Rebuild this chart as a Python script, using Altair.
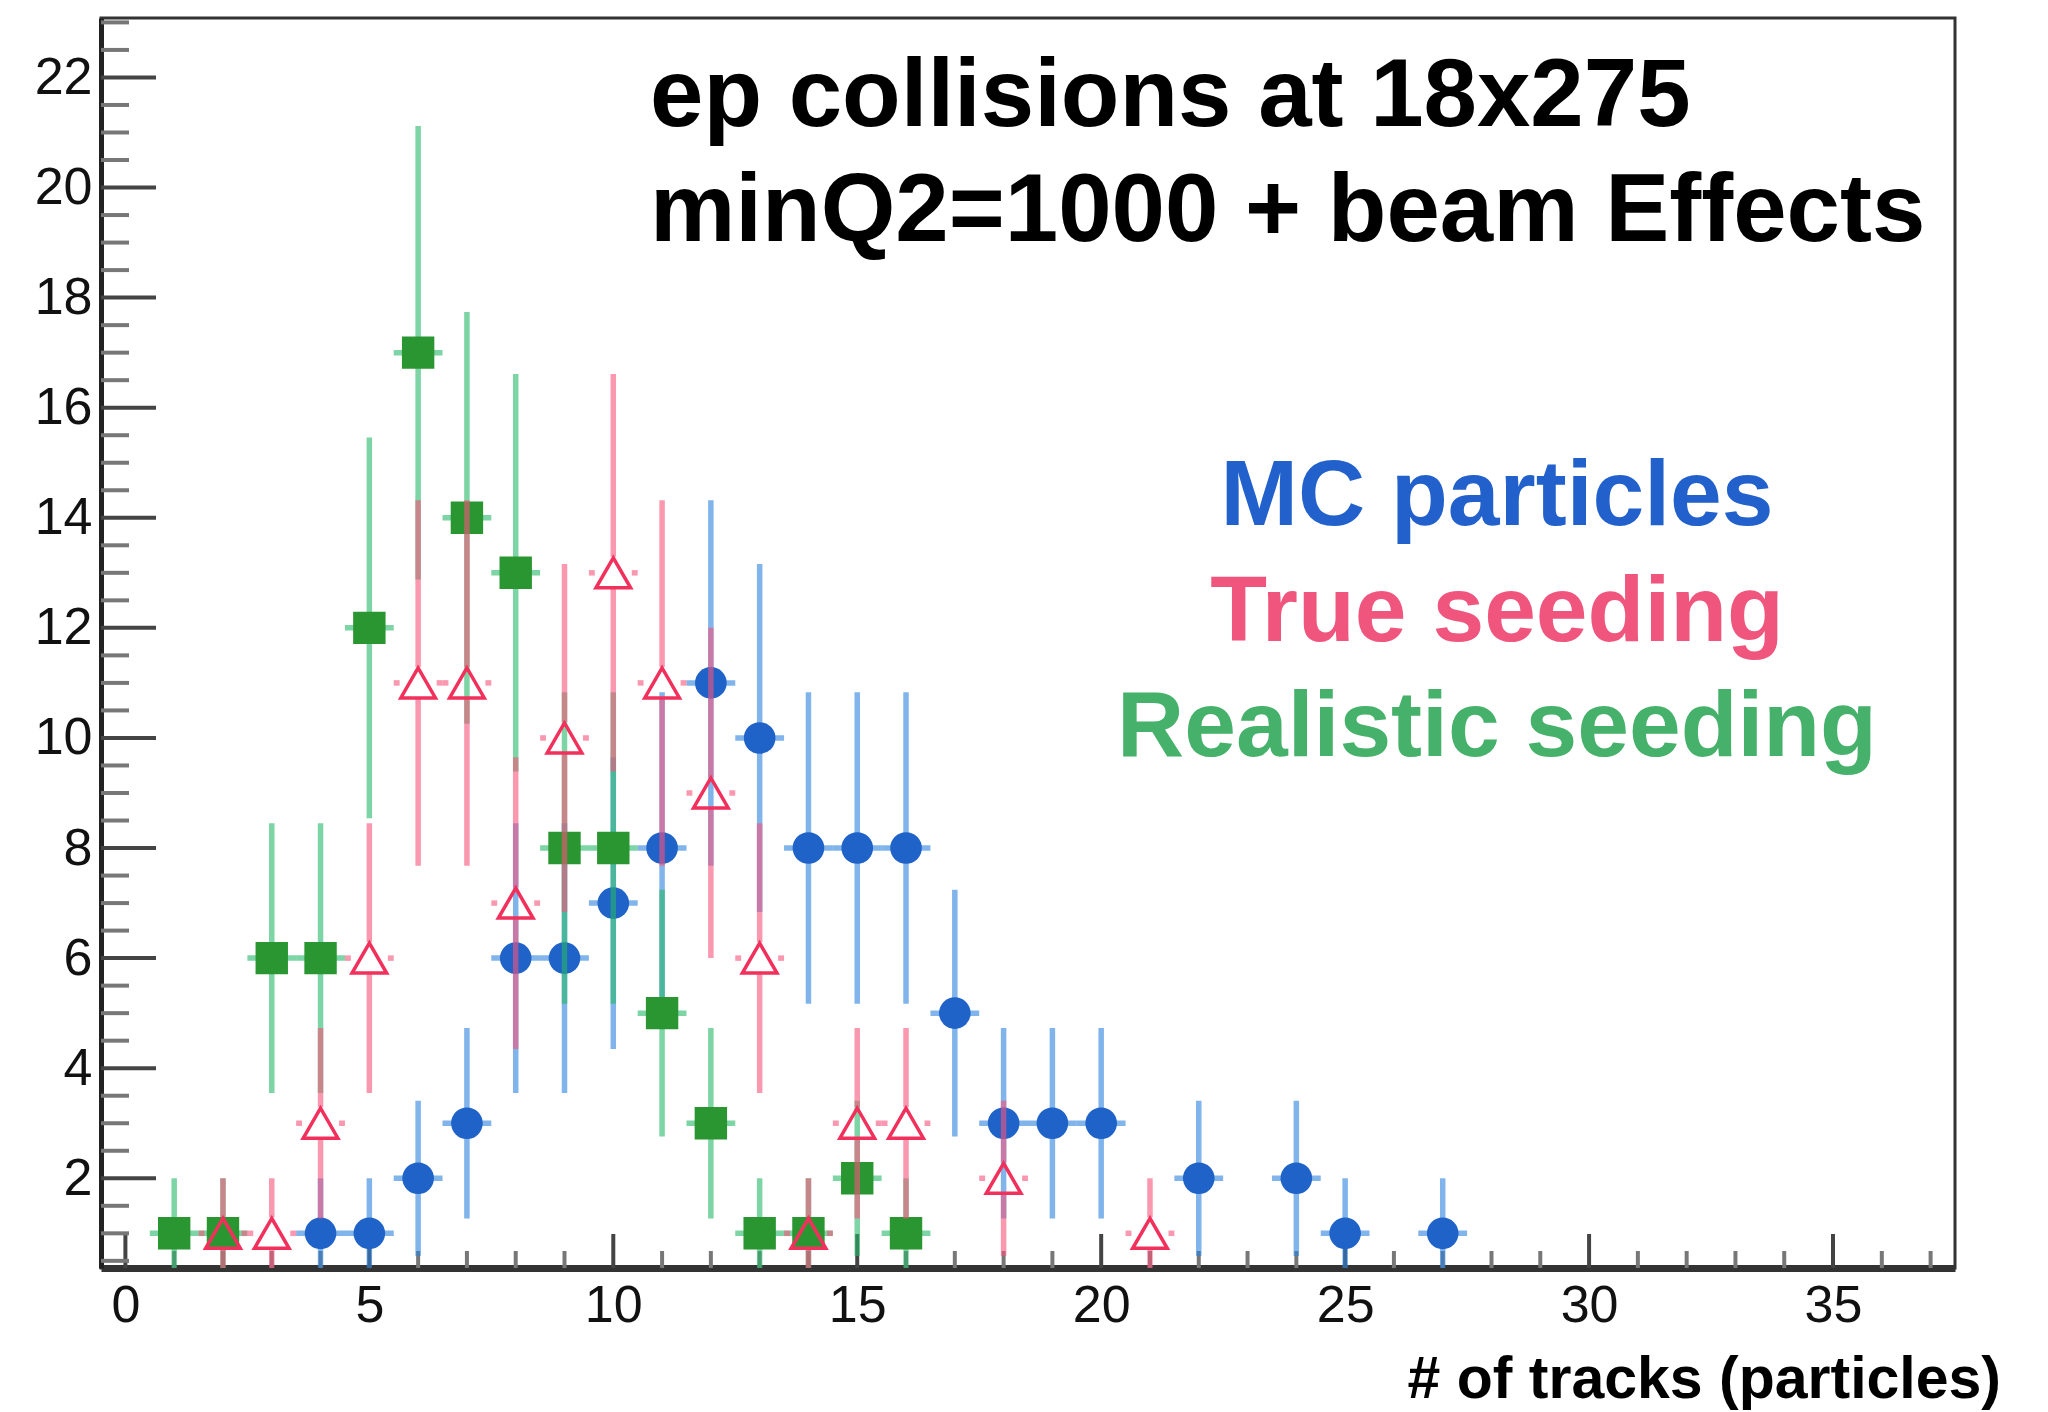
import altair as alt
import pandas as pd

# ---------------- data ----------------
mc_x = [4, 5, 6, 7, 8, 9, 10, 11, 12, 13, 14, 15, 16, 17, 18, 19, 20, 22, 24, 25, 27]
mc_y = [1, 1, 2, 3, 6, 6, 7, 8, 11, 10, 8, 8, 8, 5, 3, 3, 3, 2, 2, 1, 1]
mc_err = [1, 1, 1.41, 1.73, 2.45, 2.45, 2.65, 2.83, 3.32, 3.16, 2.83, 2.83, 2.83,
          2.24, 1.73, 1.73, 1.73, 1.41, 1.41, 1, 1]

true_x = [2, 3, 4, 5, 6, 7, 8, 9, 10, 11, 12, 13, 14, 15, 16, 18, 21]
true_y = [1, 1, 3, 6, 11, 11, 7, 10, 13, 11, 9, 6, 1, 3, 3, 2, 1]
true_err = [1, 1, 1.73, 2.45, 3.32, 3.32, 2.65, 3.16, 3.61, 3.32, 3, 2.45, 1,
            1.73, 1.73, 1.41, 1]

real_x = [1, 2, 3, 4, 5, 6, 7, 8, 9, 10, 11, 12, 13, 14, 15, 16]
real_y = [1, 1, 6, 6, 12, 17, 14, 13, 8, 8, 5, 3, 1, 1, 2, 1]
real_err = [1, 1, 2.45, 2.45, 3.46, 4.12, 3.74, 3.61, 2.83, 2.83, 2.24, 1.73, 1, 1,
            1.41, 1]

x_major_ticks = [0, 5, 10, 15, 20, 25, 30, 35]
x_minor_ticks = [v for v in range(0, 38) if v % 5 != 0]
y_major_ticks = [2, 4, 6, 8, 10, 12, 14, 16, 18, 20, 22]
y_minor_ticks = [v / 2 for v in range(1, 47) if v % 4 != 0]

title_line1 = "ep collisions at 18x275"
title_line2 = "minQ2=1000 + beam Effects"
legend_mc = "MC particles"
legend_true = "True seeding"
legend_real = "Realistic seeding"
x_title = "# of tracks (particles)"

# ---------------- layout / style ----------------
W, H = 1854, 1250
XMIN, XMAX = -0.5, 37.5
YMIN, YMAX = 0.37, 23.08
BIN_HALF = 0.5
FONT = "Liberation Sans"

PX_X = W / (XMAX - XMIN)
PX_Y = H / (YMAX - YMIN)
TRI_SIZE = 1200
TRI_HALF_W = 18.5      # px
TRI_HALF_H = 16.0      # px
GAP_X = TRI_HALF_W / PX_X
GAP_Y = TRI_HALF_H / PX_Y

BLUE_M, BLUE_B = "#1f62c8", "#2b82dc"
PINK_M, PINK_B = "#f2305c", "#f7537b"
GREEN_M, GREEN_B = "#2a9632", "#26b767"
BAR_OP = 0.6
BAR_W = 5.5

xs = alt.Scale(domain=[XMIN, XMAX], nice=False, zero=False)
ys = alt.Scale(domain=[YMIN, YMAX], nice=False, zero=False)
xaxis = alt.Axis(values=x_major_ticks, ticks=False, grid=False, domain=True,
                 domainColor="#333333", domainWidth=7, labelFontSize=52,
                 labelFont=FONT, labelColor="#111111", labelPadding=12,
                 labelFlush=False, title=None, format="d")
yaxis = alt.Axis(values=y_major_ticks, ticks=False, grid=False, domain=True,
                 domainColor="#222222", domainWidth=5, labelFontSize=52,
                 labelFont=FONT, labelColor="#111111", labelPadding=9,
                 labelFlush=False, title=None, format="d")


def X(f):
    return alt.X(f, type="quantitative", scale=xs, axis=xaxis)


def Y(f):
    return alt.Y(f, type="quantitative", scale=ys, axis=yaxis)


def series_df(xv, yv, ev):
    d = pd.DataFrame({"x": xv, "y": yv, "e": ev})
    d["lo"] = d["y"] - d["e"]
    d["hi"] = d["y"] + d["e"]
    d["xl"] = d["x"] - BIN_HALF
    d["xr"] = d["x"] + BIN_HALF
    return d


mc = series_df(mc_x, mc_y, mc_err)
tr = series_df(true_x, true_y, true_err)
re = series_df(real_x, real_y, real_err)


def bars(d, color):
    v = alt.Chart(d).mark_rule(color=color, opacity=BAR_OP, strokeWidth=BAR_W,
                               clip=True).encode(x=X("x"), y=Y("lo"), y2="hi")
    h = alt.Chart(d).mark_rule(color=color, opacity=BAR_OP, strokeWidth=BAR_W,
                               clip=True).encode(x=X("xl"), x2="xr", y=Y("y"))
    return [v, h]


# pink bars split around the hollow triangle (ROOT does not draw them inside the marker)
tr_v = pd.concat([
    pd.DataFrame({"x": tr["x"], "a": tr["lo"], "b": tr["y"] - GAP_Y}),
    pd.DataFrame({"x": tr["x"], "a": tr["y"] + GAP_Y, "b": tr["hi"]}),
])
tr_h = pd.concat([
    pd.DataFrame({"y": tr["y"], "a": tr["xl"], "b": tr["x"] - GAP_X}),
    pd.DataFrame({"y": tr["y"], "a": tr["x"] + GAP_X, "b": tr["xr"]}),
])
pink_v = alt.Chart(tr_v).mark_rule(color=PINK_B, opacity=BAR_OP, strokeWidth=BAR_W,
                                   clip=True).encode(x=X("x"), y=Y("a"), y2="b")
pink_h = alt.Chart(tr_h).mark_rule(color=PINK_B, opacity=BAR_OP, strokeWidth=BAR_W,
                                   clip=True).encode(x=X("a"), x2="b", y=Y("y"))

mc_pts = alt.Chart(mc).mark_point(shape="circle", filled=True, size=1000, opacity=1,
                                  color=BLUE_M).encode(x=X("x"), y=Y("y"))
re_pts = alt.Chart(re).mark_point(shape="square", filled=True, size=1050, opacity=1,
                                  color=GREEN_M).encode(x=X("x"), y=Y("y"))
tr_pts = alt.Chart(tr).mark_point(shape="triangle-up", filled=False, size=TRI_SIZE,
                                  opacity=1, stroke=PINK_M, strokeWidth=3.5).encode(
    x=X("x"), y=Y("y"))

# ROOT-style inward ticks
ymaj = alt.Chart(pd.DataFrame({"v": y_major_ticks})).mark_rule(
    color="#444444", strokeWidth=4).encode(y=Y("v"), x=alt.value(0), x2=alt.value(55))
ymin_ = alt.Chart(pd.DataFrame({"v": y_minor_ticks})).mark_rule(
    color="#777777", strokeWidth=4).encode(y=Y("v"), x=alt.value(0), x2=alt.value(28))
xmaj = alt.Chart(pd.DataFrame({"v": x_major_ticks})).mark_rule(
    color="#444444", strokeWidth=4).encode(x=X("v"), y=alt.value(H), y2=alt.value(H - 34))
xmin_ = alt.Chart(pd.DataFrame({"v": x_minor_ticks})).mark_rule(
    color="#777777", strokeWidth=4).encode(x=X("v"), y=alt.value(H), y2=alt.value(H - 17))


def label(text, color, size, align, px, py):
    return alt.Chart(pd.DataFrame({"t": [text]})).mark_text(
        font=FONT, fontWeight="bold", fontSize=size, color=color, align=align,
        baseline="alphabetic").encode(text="t:N", x=alt.value(px), y=alt.value(py))


texts = [
    label(title_line1, "#000000", 96, "left", 549, 108),
    label(title_line2, "#000000", 96, "left", 549, 223),
    label(legend_mc, "#2261cc", 93, "center", 1396, 507),
    label(legend_true, "#f0557d", 93, "center", 1396, 623),
    label(legend_real, "#46b16a", 93, "center", 1396, 738),
    label(x_title, "#000000", 59, "right", 1900, 1380),
]

layers = [xmin_, xmaj, ymin_, ymaj]
layers += bars(mc, BLUE_B) + [mc_pts]
layers += bars(re, GREEN_B) + [re_pts]
layers += [pink_v, pink_h, tr_pts]
layers += texts

chart = alt.layer(*layers).properties(
    width=W, height=H,
    autosize=alt.AutoSizeParams(type="none"),
    padding={"left": 101, "top": 18, "right": 2048 - 101 - W, "bottom": 1412 - 18 - H},
    background="white",
).configure_view(stroke="#333333", strokeWidth=3)

chart.save("out.html", embed_options={"renderer": "svg", "actions": False})
